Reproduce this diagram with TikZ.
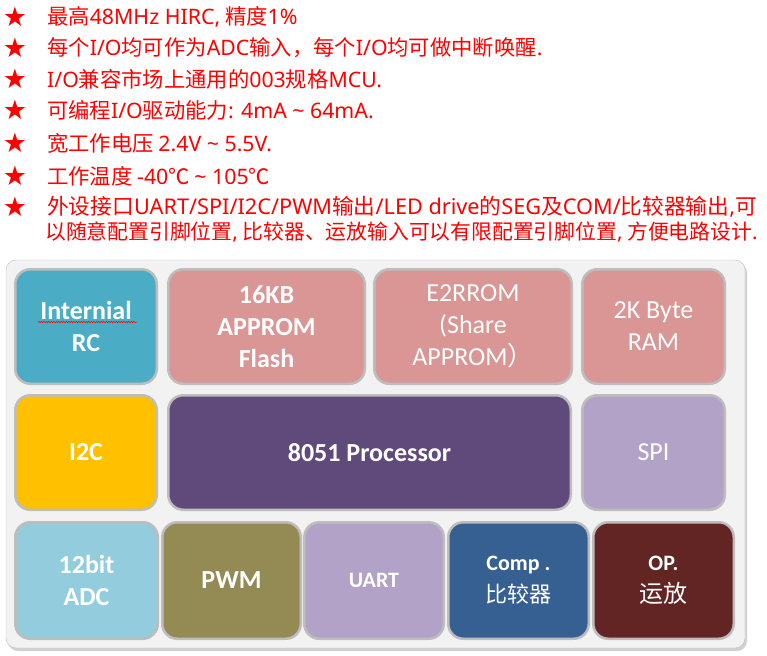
\documentclass[tikz,border=0pt]{standalone}
\usepackage{fontspec}
\setmainfont{Carlito}
\newfontfamily\cjk{Noto Sans CJK SC}
\newfontfamily\latfnt{Noto Sans}
\newfontfamily\starfnt{DejaVu Sans}
\newcommand\lt[1]{{\latfnt #1}}
\usepackage{tikz}
\usetikzlibrary{positioning}
\usetikzlibrary{calc,decorations.pathmorphing}

\definecolor{starred}{HTML}{FF0000}
\definecolor{panelfill}{HTML}{F2F2F2}
\definecolor{panelgray}{HTML}{BFBFBF}
\definecolor{blkgray}{HTML}{BDBDBD}
\definecolor{rcblue}{HTML}{4BACC6}
\definecolor{mempink}{HTML}{D99694}
\definecolor{i2cyellow}{HTML}{FFC000}
\definecolor{procpurple}{HTML}{604A7B}
\definecolor{lilac}{HTML}{B3A2C7}
\definecolor{adcblue}{HTML}{93CDDD}
\definecolor{pwmolive}{HTML}{948A54}
\definecolor{compblue}{HTML}{376092}
\definecolor{opred}{HTML}{632523}

\begin{document}
\begin{tikzpicture}[x=1pt, y=-1pt,
starnode/.style={text=starred, inner sep=0pt, font=\starfnt\fontsize{27}{27}\selectfont},
itemnode/.style={anchor=west, text=starred, inner sep=0pt, font=\cjk\fontsize{21.3}{24}\selectfont},
blknode/.style={draw=blkgray, line width=2.5pt, rounded corners=15pt, inner sep=0pt, text=white, align=center, minimum height=114.5pt, font=\bfseries\fontsize{26}{32}\selectfont},
thintext/.style={font=\fontsize{26}{32}\selectfont}
]
\useasboundingbox (0,0) rectangle (767,655);
%Stars
\foreach \y [count=\i] in {17,48,79,110,143,176,207}
  \node[starnode] (s\i) at (15,\y) {★};
%Items
\node[itemnode] (l1) at (47,17) {最高\lt{48MHz HIRC,} 精度\lt{1\%}};
\node[itemnode] (l2) at (47,48) {每个\lt{I/O}均可作为\lt{ADC}输入，每个\lt{I/O}均可做中断唤醒\lt{.}};
\node[itemnode] (l3) at (47,79) {\lt{I/O}兼容市场上通用的\lt{003}规格\lt{MCU.}};
\node[itemnode] (l4) at (47,110) {可编程\lt{I/O}驱动能力\lt{: 4mA \textasciitilde{} 64mA.}};
\node[itemnode] (l5) at (47,143) {宽工作电压 \lt{2.4V \textasciitilde{} 5.5V.}};
\node[itemnode] (l6) at (47,176) {工作温度 \lt{-40}℃ \lt{\textasciitilde{} 105}℃};
\node[itemnode, font=\cjk\fontsize{21.7}{24}\selectfont] (l7) at (47,207) {外设接口\lt{UART/SPI/I2C/PWM}输出\lt{/LED drive}的\lt{SEG}及\lt{COM/}比较器输出\lt{,}可};
\node[itemnode, font=\cjk\fontsize{20.8}{24}\selectfont] (l8) at (45,232) {以随意配置引脚位置\lt{,} 比较器、运放输入可以有限配置引脚位置\lt{,} 方便电路设计\lt{.}};
%Panel
\fill[black!18, rounded corners=10pt] (8,263) rectangle (747,651);
\draw[panelgray, fill=panelfill, rounded corners=10pt] (6,260) rectangle (745,648);
%Blocks
\node[blknode, fill=rcblue, minimum width=141.5pt] (rc) at (86,326.5) {Internial\\RC};
\node[blknode, fill=mempink, minimum width=196.5pt] (flash) [right=9pt of rc] {16KB\\APPROM\\Flash};
\node[blknode, thintext, fill=mempink, minimum width=197.5pt] (eep) [right=7pt of flash] {E2RROM\\(Share\\APPROM{\cjk ）}};
\node[blknode, thintext, fill=mempink, minimum width=142.5pt] (ram) [right=8pt of eep] {2K Byte\\RAM};
\node[blknode, fill=i2cyellow, minimum width=141.5pt] (i2c) at (86,452.5) {I2C};
\node[blknode, fill=procpurple, minimum width=402.5pt] (proc) [right=9pt of i2c] {8051 Processor};
\node[blknode, thintext, fill=lilac, minimum width=142.5pt] (spi) [right=9pt of proc] {SPI};
\node[blknode, fill=adcblue, minimum width=142.5pt, minimum height=116.5pt] (adc) at (86.5,580.5) {12bit\\ADC};
\node[blknode, fill=pwmolive, minimum width=138.5pt, minimum height=116.5pt] (pwm) [right=2pt of adc] {PWM};
\node[blknode, fill=lilac, minimum width=139.5pt, minimum height=116.5pt, font=\bfseries\fontsize{22}{32}\selectfont] (uart) [right=1pt of pwm] {UART};
\node[blknode, fill=compblue, minimum width=140.5pt, minimum height=116.5pt, font=\bfseries\fontsize{22}{32}\selectfont] (comp) [right=2pt of uart] {Comp .\\{\cjk\mdseries 比较器}};
\node[blknode, fill=opred, minimum width=140.5pt, minimum height=116.5pt, font=\bfseries\fontsize{22}{32}\selectfont] (op) [right=2pt of comp] {OP.\\{\cjk\mdseries\fontsize{24}{32}\selectfont 运放}};
%Squiggle
\draw[starred, line width=0.5pt, decorate, decoration={snake, amplitude=0.7pt, segment length=2.5pt}]
  ([xshift=-48pt, yshift=4.5pt]rc.center) -- ([xshift=51pt, yshift=4.5pt]rc.center);
\end{tikzpicture}
\end{document}
